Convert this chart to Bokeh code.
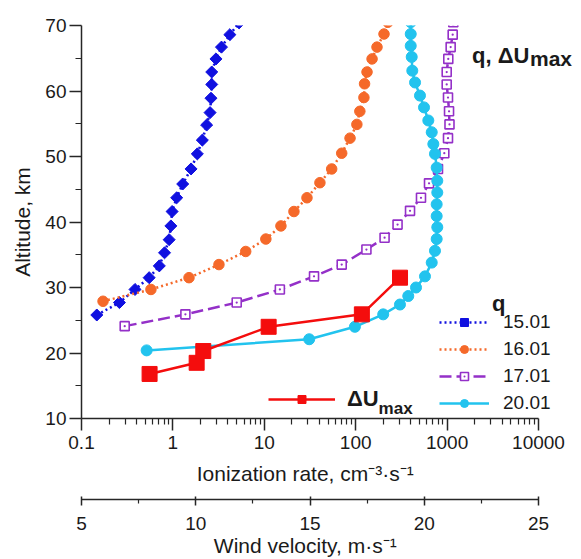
import math
from bokeh.plotting import figure
from bokeh.models import (Range1d, LinearAxis, LinearScale, FixedTicker,
                          CustomJSTickFormatter, Legend, LegendItem, Label)
from bokeh.embed import file_html
from bokeh.resources import INLINE

# ---------------- data ----------------
alt15 = [25.8, 27.7, 29.7, 31.5, 33.3, 35.3, 37.3, 39.4, 41.6, 43.7, 45.8, 48.1,
         50.4, 52.5, 54.8, 56.7, 58.9, 61.0, 62.9, 64.9, 66.7, 68.6, 70.4]
q15 = [0.147, 0.26, 0.385, 0.55, 0.71, 0.81, 0.91, 0.95, 0.98, 1.10, 1.28, 1.58,
       1.85, 2.10, 2.34, 2.55, 2.61, 2.66, 2.66, 2.96, 3.4, 4.2, 5.3]

alt16 = [27.9, 29.7, 31.5, 33.5, 35.5, 37.4, 39.4, 41.6, 43.7, 46.0, 48.1, 50.5,
         52.8, 54.9, 56.9, 59.0, 61.1, 62.9, 64.9, 66.7, 68.7, 70.5]
q16 = [0.172, 0.575, 1.50, 3.19, 6.26, 10.4, 15.2, 21.1, 29.3, 40.6, 54.6, 70.3,
       86.7, 103, 111, 123, 125, 133, 151, 171, 204, 225]

alt17 = [24.1, 25.9, 27.7, 29.7, 31.7, 33.5, 35.8, 37.6, 39.6, 41.7, 43.7, 45.9,
         48.1, 50.5, 52.8, 54.9, 56.9, 59.0, 61.0, 62.9, 64.9, 66.7, 68.6, 70.5]
q17 = [0.297, 1.37, 4.99, 14.8, 35.0, 70.3, 131, 207, 287, 393, 518, 634,
       795, 932, 1023, 1062, 1050, 1023, 990, 990, 1030, 1094, 1151, 1169]

alt20 = [20.4, 22.1, 24.0, 25.9, 27.4, 28.7, 30.0, 31.7, 33.8, 35.6, 37.4, 39.2,
         40.9, 42.7, 44.5, 46.3, 48.3, 50.4, 51.9, 53.7, 55.5, 57.5, 59.3, 61.3,
         63.1, 65.2, 66.9, 68.7, 70.5]
q20 = [0.516, 31, 98, 200, 305, 376, 457, 573, 679, 737, 769, 781,
       769, 769, 781, 781, 769, 737, 707, 679, 623, 559, 505, 446,
       416, 410, 400, 400, 400]

alt_du = [16.8, 18.5, 20.3, 24.0, 25.9, 31.5]
du_max = [7.98, 10.04, 10.33, 13.19, 17.27, 18.94]

series_labels = ["15.01", "16.01", "17.01", "20.01"]
q_ticks = [0.1, 1, 10, 100, 1000, 10000]
alt_ticks = [10, 20, 30, 40, 50, 60, 70]
alt_minor = [15, 25, 35, 45, 55, 65]
wind_ticks = [5, 10, 15, 20, 25]
wind_minor = [7.5, 12.5, 17.5, 22.5]

# ---------------- layout / styles ----------------
FONT = "Liberation Sans"
BLUE = "#1010e0"
ORANGE = "#f5692a"
PURPLE = "#9430c8"
CYAN = "#22c3ee"
RED = "#f40d0d"
AXC = "#262626"
TXT = "#1a1a1a"
TITLE_SIZE = "21px"
PAD = "\u00a0" * 9      # shifts the axis titles to the centre of the drawn axis

W, H = 581, 559
LEFT = 81
AXIS_W = 457            # pixel length of the drawn axes (0.1..10000 / 5..25)
FRAME_W = W - LEFT      # frame reaches the right edge so texts are not clipped
ext = FRAME_W / AXIS_W
lo, hi = math.log10(q_ticks[0]), math.log10(q_ticks[-1])
x_end = 10 ** (lo + (hi - lo) * ext)
wind_end = wind_ticks[0] + (wind_ticks[-1] - wind_ticks[0]) * ext

p = figure(width=W, height=H, x_axis_type="log",
           x_range=Range1d(q_ticks[0], x_end), y_range=Range1d(10, 70),
           output_backend="svg", toolbar_location=None,
           min_border_left=LEFT, min_border_right=0, min_border_top=25,
           min_border_bottom=141)
p.extra_x_ranges = {"wind": Range1d(wind_ticks[0], wind_end)}
p.extra_x_scales = {"wind": LinearScale()}
p.outline_line_color = None
p.grid.visible = False

# q series
l15 = p.line(q15, alt15, color=BLUE, line_width=2.5, line_dash="2 3")
s15 = p.scatter(q15, alt15, marker="square", angle=0.785, size=8.5, color=BLUE)
l16 = p.line(q16, alt16, color=ORANGE, line_width=2.5, line_dash="2 3")
s16 = p.scatter(q16, alt16, marker="circle", size=10.5, color=ORANGE)
l17 = p.line(q17, alt17, color=PURPLE, line_width=2.5, line_dash="12 5")
s17 = p.scatter(q17, alt17, marker="square_dot", size=9, line_color=PURPLE,
                fill_color="white", line_width=1.6)
l20 = p.line(q20, alt20, color=CYAN, line_width=2.5)
s20 = p.scatter(q20, alt20, marker="circle", size=11, color=CYAN)

# Delta U max on the wind axis
ldu = p.line(du_max, alt_du, color=RED, line_width=2.5, x_range_name="wind")
sdu = p.scatter(du_max, alt_du, marker="square", size=15, color=RED,
                x_range_name="wind")

# ---------------- axes ----------------
def style_axis(ax, tick_in=0, tick_out=12, minor_out=6):
    ax.axis_line_color = AXC
    ax.axis_line_width = 1.5
    ax.major_tick_line_color = AXC
    ax.minor_tick_line_color = AXC
    ax.major_tick_line_width = 1.5
    ax.minor_tick_line_width = 1.2
    ax.major_tick_in = tick_in
    ax.major_tick_out = tick_out
    ax.minor_tick_in = 0
    ax.minor_tick_out = minor_out
    ax.major_label_text_font = FONT
    ax.major_label_text_font_size = "19px"
    ax.major_label_text_color = TXT
    ax.axis_label_text_font = FONT
    ax.axis_label_text_font_size = TITLE_SIZE
    ax.axis_label_text_font_style = "normal"
    ax.axis_label_text_color = TXT

style_axis(p.xaxis[0])
style_axis(p.yaxis[0])

minor_q = [m * d for d in q_ticks[:-1] for m in range(2, 10)]
p.xaxis[0].ticker = FixedTicker(ticks=q_ticks, minor_ticks=minor_q)
p.xaxis[0].bounds = (q_ticks[0], q_ticks[-1])
p.xaxis[0].formatter = CustomJSTickFormatter(
    code="return tick < 1 ? tick.toFixed(1) : tick.toFixed(0);")
p.xaxis[0].axis_label = "Ionization rate, cm\u207b\u00b3\u00b7s\u207b\u00b9" + PAD
p.xaxis[0].major_label_standoff = 5
p.xaxis[0].axis_label_standoff = 10

p.yaxis[0].ticker = FixedTicker(ticks=alt_ticks, minor_ticks=alt_minor)
p.yaxis[0].axis_label = "Altitude, km"
p.yaxis[0].major_label_standoff = 3
p.yaxis[0].axis_label_standoff = 8

spacer = LinearAxis(x_range_name="wind", ticker=FixedTicker(ticks=[]),
                    axis_line_color=None, major_tick_line_color=None,
                    minor_tick_line_color=None, major_tick_in=0, major_tick_out=0,
                    minor_tick_in=0, minor_tick_out=0, major_label_standoff=0,
                    axis_label="\u00a0", axis_label_standoff=0,
                    axis_label_text_font_size="8px")
p.add_layout(spacer, "below")

wind_ax = LinearAxis(x_range_name="wind",
                     ticker=FixedTicker(ticks=wind_ticks, minor_ticks=wind_minor),
                     axis_label="Wind velocity, m\u00b7s\u207b\u00b9" + PAD,
                     bounds=(wind_ticks[0], wind_ticks[-1]))
style_axis(wind_ax, tick_in=3, tick_out=6, minor_out=4)
wind_ax.major_label_standoff = 11
wind_ax.axis_label_standoff = 1
p.add_layout(wind_ax, "below")

# ---------------- legends ----------------
q_legend = Legend(items=[LegendItem(label=series_labels[0], renderers=[l15, s15]),
                         LegendItem(label=series_labels[1], renderers=[l16, s16]),
                         LegendItem(label=series_labels[2], renderers=[l17, s17]),
                         LegendItem(label=series_labels[3], renderers=[l20, s20])],
                  location=(358, 4), orientation="vertical",
                  glyph_width=50, glyph_height=20, label_height=20, spacing=5,
                  padding=0, margin=0, label_standoff=14,
                  label_text_font=FONT, label_text_font_size="19px",
                  label_text_color=TXT,
                  border_line_color=None, background_fill_alpha=0)
p.add_layout(q_legend, "center")

du_legend = Legend(items=[LegendItem(label="\u0394U", renderers=[ldu, sdu])],
                   location=(187, 6), glyph_width=67, glyph_height=20,
                   label_height=20, padding=0, margin=0, label_standoff=12,
                   label_text_font=FONT, label_text_font_size="22px",
                   label_text_font_style="bold", label_text_color=TXT,
                   border_line_color=None, background_fill_alpha=0)
p.add_layout(du_legend, "center")

p.add_layout(Label(x=178, y=11.6, text="max", text_font=FONT, text_font_size="17px",
                   text_font_style="bold", text_color=TXT,
                   text_baseline="alphabetic"))
p.add_layout(Label(x=3100, y=27.6, text="q", text_font=FONT, text_font_size="22px",
                   text_font_style="bold", text_color=TXT,
                   text_baseline="alphabetic"))
p.add_layout(Label(x=1873, y=65.41, text="q, \u0394U", text_font=FONT,
                   text_font_size="22px", text_font_style="bold",
                   text_color=TXT, text_baseline="alphabetic"))
p.add_layout(Label(x=8070, y=64.95, text="max", text_font=FONT,
                   text_font_size="21px", text_font_style="bold",
                   text_color=TXT, text_baseline="alphabetic"))

open("out.html", "w").write(file_html(p, INLINE))
